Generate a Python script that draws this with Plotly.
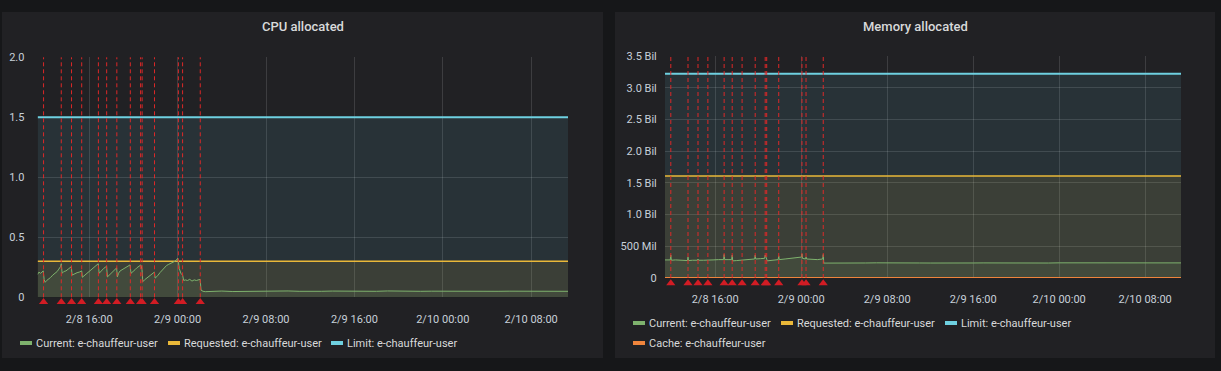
import pandas as pd
import plotly.graph_objects as go

# ---------------- data ----------------
BASE = "2021-02-08 16:00"           # reference point for hour offsets
RANGE_HOURS = [-4.67, 43.33]         # visible time window (hours from BASE)

tick_hours = [0, 8, 16, 24, 32, 40]
tick_text = ["2/8 16:00", "2/9 00:00", "2/9 08:00", "2/9 16:00", "2/10 00:00", "2/10 08:00"]

annotation_hours = [-4.13, -2.53, -1.60, -0.68, 0.83, 1.58, 2.50, 3.72, 4.65, 4.79,
                    5.91, 8.07, 8.45, 10.05]

cpu_hours = [-4.67, -4.55, -4.4, -4.25, -4.16, -4.08, -3.99, -3.85, -3.7, -3.5, -3.3, -3.1,
             -2.9, -2.75, -2.6, -2.53, -2.45, -2.3, -2.1, -1.9, -1.75, -1.62, -1.55, -1.45,
             -1.3, -1.1, -0.9, -0.75, -0.68, -0.62, -0.45, -0.3, -0.1, 0.1, 0.3, 0.5, 0.7,
             0.82, 0.9, 1.0, 1.15, 1.3, 1.45, 1.57, 1.65, 1.75, 1.9, 2.05, 2.2, 2.35, 2.48,
             2.55, 2.65, 2.8, 3.0, 3.2, 3.4, 3.55, 3.7, 3.78, 3.85, 4.0, 4.15, 4.3, 4.45, 4.6,
             4.68, 4.78, 4.85, 5.0, 5.2, 5.4, 5.6, 5.75, 5.9, 5.97, 6.05, 6.2, 6.4, 6.6, 6.8,
             7.0, 7.2, 7.4, 7.6, 7.75, 7.9, 8.0, 8.07, 8.15, 8.3, 8.45, 8.55, 8.7, 8.9, 9.1,
             9.3, 9.5, 9.7, 9.9, 10.04, 10.12, 10.3, 10.5,
             11, 12, 13, 14, 15, 16, 17, 18, 19, 20, 21, 22, 23, 24, 25, 26, 27, 28, 29, 30,
             31, 32, 33, 34, 35, 36, 37, 38, 39, 40, 41, 42, 43, 43.33]
cpu_current = [0.19, 0.21, 0.20, 0.21, 0.22, 0.15, 0.125, 0.14, 0.15, 0.165, 0.185, 0.20,
               0.215, 0.235, 0.255, 0.28, 0.20, 0.215, 0.22, 0.235, 0.245, 0.255, 0.185, 0.19,
               0.20, 0.205, 0.21, 0.215, 0.22, 0.167, 0.18, 0.19, 0.205, 0.22, 0.235, 0.25, 0.265,
               0.28, 0.20, 0.21, 0.23, 0.24, 0.25, 0.26, 0.17, 0.18, 0.195, 0.21, 0.22, 0.235, 0.245,
               0.17, 0.20, 0.22, 0.23, 0.24, 0.25, 0.26, 0.27, 0.20, 0.205, 0.22, 0.23, 0.245, 0.255, 0.265,
               0.27, 0.23, 0.13, 0.145, 0.16, 0.175, 0.19, 0.20, 0.21, 0.16, 0.165, 0.18, 0.205, 0.225, 0.245,
               0.265, 0.275, 0.285, 0.29, 0.30, 0.315, 0.325, 0.30, 0.24, 0.20, 0.185, 0.14, 0.145, 0.14, 0.15,
               0.135, 0.145, 0.14, 0.15, 0.15, 0.06, 0.05, 0.047,
               0.050, 0.052, 0.048, 0.050, 0.051, 0.049, 0.050, 0.053, 0.050, 0.048, 0.050, 0.052, 0.050,
               0.049, 0.051, 0.050, 0.053, 0.050, 0.048, 0.050, 0.051, 0.050, 0.049, 0.052, 0.050, 0.048,
               0.050, 0.051, 0.050, 0.049, 0.052, 0.050, 0.050, 0.050]
cpu_requested = 0.3
cpu_limit = 1.5

mem_hours = [-4.67, -4.4, -4.18, -4.13, -4.08, -3.7, -3.2, -2.8, -2.58, -2.53, -2.48, -2.1,
             -1.65, -1.6, -1.55, -1.1, -0.73, -0.68, -0.63, -0.2, 0.3, 0.78, 0.83, 0.88, 1.2,
             1.53, 1.58, 1.63, 2.0, 2.45, 2.5, 2.55, 3.1, 3.67, 3.72, 3.77, 4.2, 4.6, 4.65, 4.72,
             4.79, 4.84, 5.3, 5.86, 5.91, 5.96, 6.5, 7.0, 7.5, 8.02, 8.07, 8.12, 8.4, 8.45, 8.5,
             9.0, 9.5, 10.0, 10.05, 10.1,
             11, 12, 13, 14, 15, 16, 17, 18, 19, 20, 21, 22, 23, 24, 25, 26, 27, 28, 29, 30,
             31, 32, 33, 34, 35, 36, 37, 38, 39, 40, 41, 42, 43, 43.33]
mem_current_bil = [0.285, 0.28, 0.285, 0.36, 0.28, 0.285, 0.28, 0.275, 0.275, 0.33, 0.275, 0.28,
                   0.28, 0.30, 0.28, 0.28, 0.285, 0.29, 0.285, 0.285, 0.29, 0.29, 0.37, 0.29, 0.29,
                   0.29, 0.36, 0.27, 0.275, 0.28, 0.29, 0.28, 0.29, 0.30, 0.36, 0.30, 0.305, 0.31, 0.36, 0.30,
                   0.30, 0.27, 0.28, 0.29, 0.35, 0.29, 0.30, 0.31, 0.32, 0.33, 0.38, 0.31, 0.30, 0.33, 0.30,
                   0.295, 0.29, 0.30, 0.37, 0.235,
                   0.238, 0.236, 0.240, 0.237, 0.239, 0.236, 0.238, 0.240, 0.237, 0.236, 0.239, 0.238, 0.240,
                   0.237, 0.238, 0.236, 0.239, 0.240, 0.238, 0.237, 0.236, 0.239, 0.240, 0.238, 0.237, 0.239,
                   0.236, 0.238, 0.240, 0.237, 0.238, 0.239, 0.238, 0.238]
mem_requested_bil = 1.61
mem_limit_bil = 3.22
mem_cache_bil = 0.0

cpu_ticks = [0, 0.5, 1.0, 1.5, 2.0]
cpu_tick_text = ["0", "0.5", "1.0", "1.5", "2.0"]
mem_ticks = [0, 0.5, 1.0, 1.5, 2.0, 2.5, 3.0, 3.5]
mem_tick_text = ["0", "500 Mil", "1.0 Bil", "1.5 Bil", "2.0 Bil", "2.5 Bil", "3.0 Bil", "3.5 Bil"]

series_names = ["Current: e-chauffeur-user", "Requested: e-chauffeur-user",
                "Limit: e-chauffeur-user", "Cache: e-chauffeur-user"]

# ---------------- helpers ----------------
base = pd.Timestamp(BASE)
def T(hours):
    return [base + pd.to_timedelta(h, unit="h") for h in hours]

W, H = 1221, 371
def px_x(p): return p / W
def px_y(p): return 1 - p / H

GREEN, YELLOW, CYAN, ORANGE = "#7EB26D", "#EAB839", "#6ED0E0", "#EF843C"
def fill(c, a=0.1):
    c = c.lstrip("#")
    return f"rgba({int(c[0:2],16)},{int(c[2:4],16)},{int(c[4:6],16)},{a})"

ANN_LINE = "rgba(230,40,40,0.95)"
ANN_MARK = "#D21C24"
TICK_COLOR = "#c7d0d9"
TEXT_COLOR = "#d8d9da"
GRID = "rgba(255,255,255,0.13)"
FONT = "Roboto"

fig = go.Figure()
t_range = T(RANGE_HOURS)
n_ann = len(annotation_hours)

# ---------------- CPU panel ----------------
fig.add_trace(go.Scatter(x=t_range, y=[cpu_limit] * 2, mode="lines", line=dict(color=CYAN, width=2),
                         fill="tozeroy", fillcolor=fill(CYAN), showlegend=False, xaxis="x", yaxis="y"))
fig.add_trace(go.Scatter(x=t_range, y=[cpu_requested] * 2, mode="lines", line=dict(color=YELLOW, width=1.5),
                         fill="tozeroy", fillcolor=fill(YELLOW), showlegend=False, xaxis="x", yaxis="y"))
fig.add_trace(go.Scatter(x=T(cpu_hours), y=cpu_current, mode="lines", line=dict(color=GREEN, width=1),
                         fill="tozeroy", fillcolor=fill(GREEN), showlegend=False, xaxis="x", yaxis="y"))
# annotation markers live on a thin strip axis just under the plot
fig.add_trace(go.Scatter(x=T(annotation_hours), y=[0.5] * n_ann, mode="markers",
                         marker=dict(symbol="triangle-up", size=8, color=ANN_MARK),
                         showlegend=False, xaxis="x3", yaxis="y3"))

# ---------------- Memory panel ----------------
fig.add_trace(go.Scatter(x=t_range, y=[mem_limit_bil] * 2, mode="lines", line=dict(color=CYAN, width=2),
                         fill="tozeroy", fillcolor=fill(CYAN), showlegend=False, xaxis="x2", yaxis="y2"))
fig.add_trace(go.Scatter(x=t_range, y=[mem_requested_bil] * 2, mode="lines", line=dict(color=YELLOW, width=1.5),
                         fill="tozeroy", fillcolor=fill(YELLOW), showlegend=False, xaxis="x2", yaxis="y2"))
fig.add_trace(go.Scatter(x=T(mem_hours), y=mem_current_bil, mode="lines", line=dict(color=GREEN, width=1),
                         fill="tozeroy", fillcolor=fill(GREEN), showlegend=False, xaxis="x2", yaxis="y2"))
fig.add_trace(go.Scatter(x=t_range, y=[mem_cache_bil] * 2, mode="lines", line=dict(color=ORANGE, width=2),
                         showlegend=False, cliponaxis=False, xaxis="x2", yaxis="y2"))
fig.add_trace(go.Scatter(x=T(annotation_hours), y=[0.5] * n_ann, mode="markers",
                         marker=dict(symbol="triangle-up", size=8, color=ANN_MARK),
                         showlegend=False, xaxis="x4", yaxis="y4"))

# ---------------- legends (one entry per legend for exact placement) ----------------
legend_items = [
    # (name, color, legend id, text start px, row centre px)
    (series_names[0], GREEN, "legend", 36, 343),
    (series_names[1], YELLOW, "legend2", 184, 343),
    (series_names[2], CYAN, "legend3", 347, 343),
    (series_names[0], GREEN, "legend4", 649, 323),
    (series_names[1], YELLOW, "legend5", 797, 323),
    (series_names[2], CYAN, "legend6", 961, 323),
    (series_names[3], ORANGE, "legend7", 649, 343),
]
legend_layout = {}
swatches = []
for name, color, lid, tx, ty in legend_items:
    # legend entry text; the colour swatch is drawn just left of it (Grafana style)
    fig.add_trace(go.Scatter(x=[None], y=[None], mode="markers", name=name, legend=lid,
                             marker=dict(symbol="line-ew", size=1, color="rgba(0,0,0,0)",
                                         line=dict(color="rgba(0,0,0,0)", width=0)),
                             xaxis="x", yaxis="y"))
    legend_layout[lid] = dict(x=px_x(tx - 40), y=px_y(ty), xref="paper", yref="paper",
                              xanchor="left", yanchor="middle",
                              orientation="h", bgcolor="rgba(0,0,0,0)", borderwidth=0,
                              font=dict(family=FONT, size=11, color=TEXT_COLOR),
                              itemclick=False, itemdoubleclick=False)
    swatches.append(dict(type="rect", xref="paper", yref="paper",
                         x0=px_x(tx - 16), x1=px_x(tx - 4), y0=px_y(ty + 2), y1=px_y(ty - 2),
                         fillcolor=color, line=dict(width=0), layer="above"))

# ---------------- panels + annotation lines ----------------
shapes = [
    dict(type="rect", xref="paper", yref="paper", x0=px_x(2), x1=px_x(603), y0=px_y(358), y1=px_y(12),
         fillcolor="#212124", line=dict(width=0), layer="below"),
    dict(type="rect", xref="paper", yref="paper", x0=px_x(615), x1=px_x(1215), y0=px_y(358), y1=px_y(12),
         fillcolor="#212124", line=dict(width=0), layer="below"),
]
for xa, ya in (("x", "y"), ("x2", "y2")):
    for t in T(annotation_hours):
        shapes.append(dict(type="line", xref=xa, yref=f"{ya} domain", x0=t, x1=t, y0=0, y1=1,
                           line=dict(color=ANN_LINE, width=1, dash="4px,3px"), layer="above"))
shapes += swatches

titles = [
    dict(text="CPU allocated", x=px_x(302.5), y=px_y(26)),
    dict(text="Memory allocated", x=px_x(915), y=px_y(26)),
]
annotations = [dict(text=a["text"], x=a["x"], y=a["y"], xref="paper", yref="paper", showarrow=False,
                    xanchor="center", yanchor="middle",
                    font=dict(family=FONT, size=13, color=TEXT_COLOR, weight=500)) for a in titles]

xaxis_common = dict(type="date", range=t_range, tickvals=T(tick_hours), ticktext=tick_text,
                    showgrid=True, gridcolor=GRID, gridwidth=1, zeroline=False, showline=False,
                    ticks="outside", ticklen=11, tickcolor="rgba(0,0,0,0)",
                    tickfont=dict(family=FONT, size=11, color=TICK_COLOR), fixedrange=True,
                    automargin=False)
yaxis_common = dict(showgrid=True, gridcolor=GRID, gridwidth=1, zeroline=False, showline=False,
                    ticks="outside", tickcolor="rgba(0,0,0,0)",
                    tickfont=dict(family=FONT, size=11, color=TICK_COLOR), fixedrange=True,
                    automargin=False)
strip_x = dict(type="date", range=t_range, visible=False, showgrid=False, zeroline=False,
               fixedrange=True, automargin=False)
strip_y = dict(range=[0, 1], visible=False, showgrid=False, zeroline=False, fixedrange=True,
               automargin=False)

fig.update_layout(
    width=W, height=H,
    margin=dict(l=0, r=0, t=0, b=0, pad=0, autoexpand=False),
    paper_bgcolor="#161719",
    plot_bgcolor="rgba(0,0,0,0)",
    font=dict(family=FONT, color=TEXT_COLOR),
    xaxis=dict(domain=[px_x(37.6), px_x(568)], anchor="y", **xaxis_common),
    yaxis=dict(domain=[px_y(297.3), px_y(57.3)], anchor="x", range=[0, 2.0],
               tickvals=cpu_ticks, ticktext=cpu_tick_text, ticklen=10, **yaxis_common),
    xaxis2=dict(domain=[px_x(665), px_x(1181)], anchor="y2", **xaxis_common),
    yaxis2=dict(domain=[px_y(278), px_y(56)], anchor="x2", range=[0, 3.5],
                tickvals=mem_ticks, ticktext=mem_tick_text, ticklen=5, **yaxis_common),
    xaxis3=dict(domain=[px_x(37.6), px_x(568)], anchor="y3", **strip_x),
    yaxis3=dict(domain=[px_y(309), px_y(295)], anchor="x3", **strip_y),
    xaxis4=dict(domain=[px_x(665), px_x(1181)], anchor="y4", **strip_x),
    yaxis4=dict(domain=[px_y(290.3), px_y(276.3)], anchor="x4", **strip_y),
    shapes=shapes,
    annotations=annotations,
    hovermode=False,
    **legend_layout,
)

fig.write_html("out.html", config={"displayModeBar": False},
               post_script="document.body.style.margin='0';")
